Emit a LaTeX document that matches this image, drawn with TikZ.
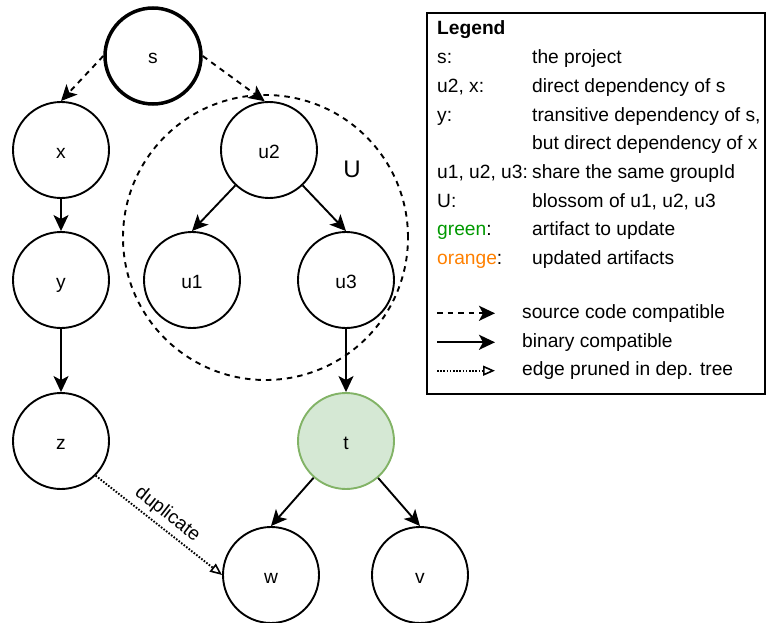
\documentclass[tikz,border=0pt]{standalone}
\usepackage{fontspec}
\setmainfont{Liberation Sans}
\usetikzlibrary{arrows.meta}
\definecolor{updfill}{HTML}{D5E8D4}
\definecolor{updline}{HTML}{82B366}
\definecolor{keygreen}{HTML}{009900}
\definecolor{keyorange}{HTML}{FF8000}

\begin{document}
\begin{tikzpicture}[x=1pt,y=-1pt,
  txt/.style={font=\fontsize{19.2}{23}\selectfont},
  vertex/.style={circle, draw, line width=1.9pt, minimum size=96pt, inner sep=0pt,
    text height=20pt, text depth=4pt, txt},
  dep/.style={line width=1.9pt, -{Stealth[length=16pt,width=15pt,inset=4pt]}},
  srcdep/.style={dep, dash pattern=on 5.5pt off 5pt},
  pruned/.style={line width=1.9pt, dash pattern=on 1.6pt off 1.6pt,
    -{Triangle[open,length=12pt,width=10pt,line width=1.6pt]}},
  keytext/.style={txt, anchor=base west, inner sep=0pt},
]
\useasboundingbox (0,0) rectangle (768,623);

% blossom U around u1, u2, u3
\node[circle, draw, line width=1.9pt, dash pattern=on 5.5pt off 5pt,
  minimum size=285pt, inner sep=0pt] (blossom) at (265.5,237.5) {};
\node[font=\fontsize{24}{28}\selectfont, inner sep=0pt] (ulabel) at (352,169) {U};

% artifacts
\node[vertex, line width=3.5pt] (s) at (153,56) {s};
\node[vertex] (x) at (61,150) {x};
\node[vertex] (y) at (61,280) {y};
\node[vertex] (z) at (61,441) {z};
\node[vertex] (u2) at (269,150) {u2};
\node[vertex] (u1) at (192,280) {u1};
\node[vertex] (u3) at (346,280) {u3};
\node[vertex, fill=updfill, draw=updline] (t) at (346,441) {t};
\node[vertex] (w) at (271,575) {w};
\node[vertex] (v) at (420,575) {v};

% dependencies
\draw[srcdep] (s.west) -- (x.north);
\draw[srcdep] (s.east) -- (u2.95);
\draw[dep] (x) -- (y);
\draw[dep] (y) -- (z);
\draw[dep] (u2) -- (u1.north);
\draw[dep] (u2) -- (u3.north);
\draw[dep] (u3) -- (t);
\draw[dep] (t) -- (w.north);
\draw[dep] (t) -- (v.north);
\draw[pruned] (z.-45) -- (w.west)
  node[midway, above, sloped, txt, inner sep=4pt] (duplabel) {duplicate};

% legend
\node[draw, line width=1.9pt, outer sep=0pt, inner sep=0pt, anchor=north west,
  minimum width=338pt, minimum height=381pt] (legend) at (427,13) {};
\node[keytext, font=\fontsize{19.2}{23}\selectfont\bfseries] (ktitle) at (437,35) {Legend};
\node[keytext] (k1a) at (437,63.7) {s:};
\node[keytext] (k1b) at (532,63.7) {the project};
\node[keytext] (k2a) at (437,92.4) {u2, x:};
\node[keytext] (k2b) at (532,92.4) {direct dependency of s};
\node[keytext] (k3a) at (437,121.1) {y:};
\node[keytext] (k3b) at (532,121.1) {transitive dependency of s,};
\node[keytext] (k4b) at (532,149.8) {but direct dependency of x};
\node[keytext] (k5a) at (437,178.5) {u1, u2, u3:};
\node[keytext] (k5b) at (532,178.5) {share the same groupId};
\node[keytext] (k6a) at (437,207.2) {U:};
\node[keytext] (k6b) at (532,207.2) {blossom of u1, u2, u3};
\node[keytext] (k7a) at (437,235.9) {\textcolor{keygreen}{green}:};
\node[keytext] (k7b) at (532,235.9) {artifact to update};
\node[keytext] (k8a) at (437,264.6) {\textcolor{keyorange}{orange}:};
\node[keytext] (k8b) at (532,264.6) {updated artifacts};

\coordinate (ls1) at (437,313.3);
\coordinate (le1) at (495,313.3);
\coordinate (ls2) at (437,342.3);
\coordinate (le2) at (495,342.3);
\coordinate (ls3) at (437,370.7);
\coordinate (le3) at (495,370.7);
\draw[srcdep] (ls1) -- (le1);
\draw[dep] (ls2) -- (le2);
\draw[pruned] (ls3) -- (le3);
\node[keytext] (k9) at (522,318.5) {source code compatible};
\node[keytext] (k10) at (522,347.2) {binary compatible};
\node[keytext] (k11) at (522,375.9) {edge pruned in dep. tree};
\end{tikzpicture}
\end{document}
